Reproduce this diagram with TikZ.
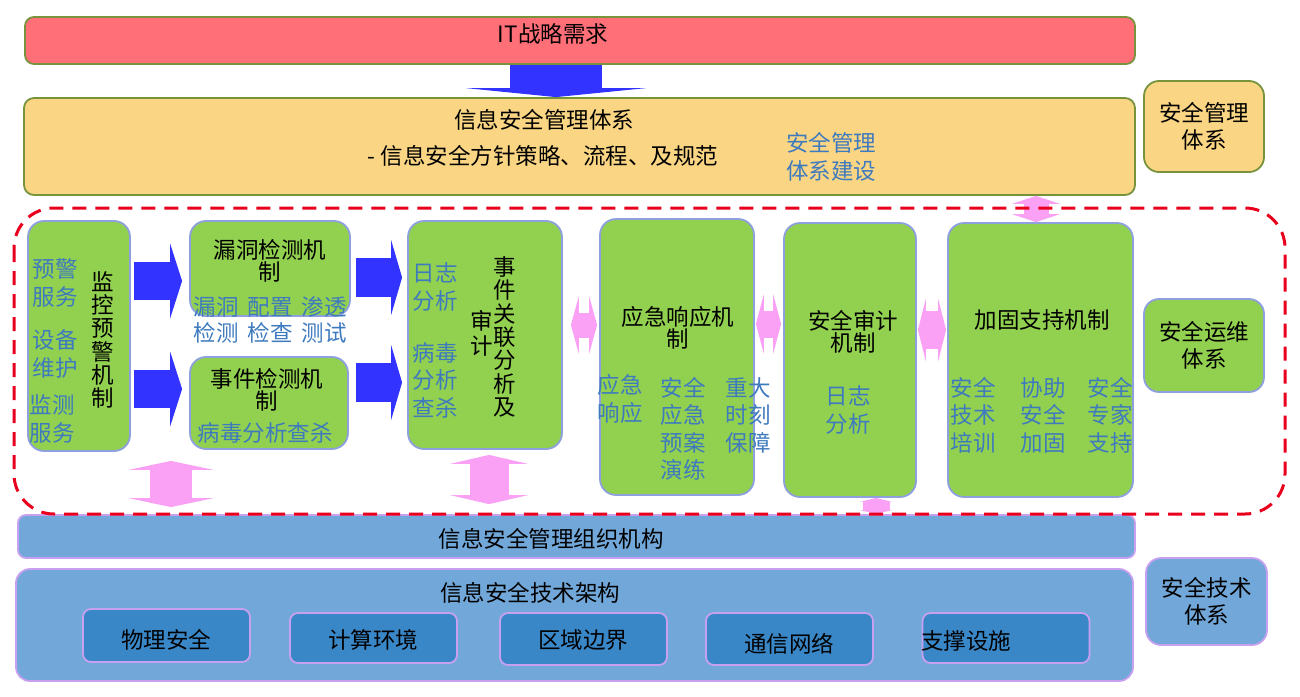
\documentclass[tikz,border=0pt]{standalone}
\usepackage{fontspec}
\setmainfont{Noto Sans CJK SC}
\definecolor{itred}{RGB}{255,111,119}
\definecolor{olive}{RGB}{119,147,60}
\definecolor{mgmtyellow}{RGB}{250,213,132}
\definecolor{mechgreen}{RGB}{146,208,80}
\definecolor{mechline}{RGB}{142,160,222}
\definecolor{noteblue}{RGB}{62,122,190}
\definecolor{arrowblue}{RGB}{51,51,255}
\definecolor{pinkarrow}{RGB}{250,160,245}
\definecolor{dashred}{RGB}{232,0,28}
\definecolor{orgblue}{RGB}{114,168,217}
\definecolor{orgline}{RGB}{200,160,240}
\definecolor{subblue}{RGB}{58,135,200}
\usepackage{tikz}
\usetikzlibrary{arrows.meta, positioning}

\begin{document}
\begin{tikzpicture}[x=1pt, y=-1pt,
  box/.style={draw, line width=1.8pt, rounded corners=#1, inner sep=0pt},
  mech/.style={box=16pt, draw=mechline, fill=mechgreen},
  sub/.style={box=8pt, draw=orgline, fill=subblue, minimum width=167pt},
  ttl/.style={font=\fontsize{22.5}{22}\selectfont, align=center, inner sep=0pt},
  side/.style={font=\fontsize{22.5}{27}\selectfont, align=center},
  vert/.style={ttl, font=\fontsize{22.5}{23.3}\selectfont},
  note/.style={text=noteblue, font=\fontsize{22.5}{27.5}\selectfont, align=center, inner sep=0pt},
  barrow/.style n args={3}{line width=#1, draw=arrowblue,
    arrows={-Triangle[width=#2,length=#3,line width=0pt]}},
  parrow/.style n args={3}{line width=#1, draw=pinkarrow,
    arrows={Triangle[width=#2,length=#3,line width=0pt]-Triangle[width=#2,length=#3,line width=0pt]}}]
  \useasboundingbox (0,0) rectangle (1300,696);

  % top layers
  \node[box=9pt, draw=olive, fill=itred, minimum width=1110pt, minimum height=47pt] (it) at (580,40.5) {};
  \node[ttl] (ittxt) at (553,34) {IT战略需求};
  \node[box=10pt, draw=olive, fill=mgmtyellow, minimum width=1111pt, minimum height=97pt] (mgmt) at (579.5,146.5) {};
  \node[ttl] (mgmttitle) at (544,120) {信息安全管理体系};
  \node[ttl] (mgmtpolicy) at (543,156) {- 信息安全方针策略、流程、及规范};
  \node[note] (mgmtbuild) at (831,157) {安全管理\\体系建设};
  \node[box=15pt, draw=olive, fill=mgmtyellow, side, minimum width=120pt, minimum height=91pt] (mgmtside) at (1204,126.5) {安全管理\\体系};
  \draw[barrow={92pt}{180pt}{9pt}] (556,0 |- it.south) -- (556,0 |- mgmt.north);

  % mechanisms
  \node[mech, minimum width=102pt, minimum height=230pt] (monitor) at (79,336) {};
  \node[vert] (monitorttl) at (103,340) {监\\控\\预\\警\\机\\制};
  \node[note] (warnsvc) at (55,283) {预警\\服务};
  \node[note] (devmaint) at (55,354) {设备\\维护};
  \node[note] (watchsvc) at (52,419) {监测\\服务};

  \node[mech, minimum width=160pt, minimum height=95pt] (vuln) at (270,268.5) {};
  \node[ttl] (vulnttl) at (270,261) {漏洞检测机\\制};
  \node[note, font=\fontsize{22.5}{26}\selectfont] (vulnnote) at (270,320)
    {漏洞\hspace{9pt}配置\hspace{9pt}渗透\\检测\hspace{9pt}检查\hspace{9pt}测试};

  \node[mech, minimum width=158pt, minimum height=92pt] (event) at (269,403) {};
  \node[ttl] (eventttl) at (267,390) {事件检测机\\制};
  \node[note] (eventnote) at (265,433) {病毒分析查杀};

  \node[mech, minimum width=154pt, minimum height=228pt] (corr) at (485,335) {};
  \node[vert] (corrttl) at (505,337) {事\\件\\关\\联\\分\\析\\及};
  \node[vert, font=\fontsize{22.5}{25}\selectfont] (corraudit) at (482,333) {审\\计};
  \node[note] (corrlog) at (435,287) {日志\\分析};
  \node[note] (corrvirus) at (435,380) {病毒\\分析\\查杀};

  \node[mech, minimum width=154pt, minimum height=276pt] (resp) at (677,357) {};
  \node[ttl] (respttl) at (678,328) {应急响应机\\制};
  \node[note] (respa) at (620,399) {应急\\响应};
  \node[note] (respb) at (683,429) {安全\\应急\\预案\\演练};
  \node[note] (respc) at (748,415) {重大\\时刻\\保障};

  \node[mech, minimum width=132pt, minimum height=274pt] (audit) at (850,360) {};
  \node[ttl] (auditttl) at (853,332) {安全审计\\机制};
  \node[note] (auditlog) at (848,410) {日志\\分析};

  \node[mech, minimum width=185pt, minimum height=274pt] (harden) at (1040.5,360) {};
  \node[ttl] (hardenttl) at (1042,320) {加固支持机制};
  \node[note] (hardena) at (973,415) {安全\\技术\\培训};
  \node[note] (hardenb) at (1043,415) {协助\\安全\\加固};
  \node[note] (hardenc) at (1110,415) {安全\\专家\\支持};

  \node[box=15pt, draw=mechline, fill=mechgreen, side, minimum width=120pt, minimum height=93pt] (opsside) at (1204,345.5) {安全运维\\体系};

  % bottom layers
  \node[box=8pt, draw=orgline, fill=orgblue, minimum width=1117pt, minimum height=43pt] (org) at (576.5,536.5) {};
  \node[ttl] (orgtxt) at (551,539) {信息安全管理组织机构};
  \node[box=14pt, draw=orgline, fill=orgblue, minimum width=1117pt, minimum height=112pt] (tech) at (574.5,625) {};
  \node[ttl] (techttl) at (530,593) {信息安全技术架构};
  \node[sub, minimum height=53pt] (phys) at (166.5,635.5) {};
  \node[ttl] (physt) at (166,640) {物理安全};
  \node[sub, minimum height=50pt] (comp) at (373.5,638) {};
  \node[ttl] (compt) at (373,640) {计算环境};
  \node[sub, minimum height=52pt] (bound) at (583.5,639) {};
  \node[ttl] (boundt) at (583,640) {区域边界};
  \node[sub, minimum height=52pt] (net) at (789.5,639) {};
  \node[ttl] (nett) at (789,644) {通信网络};
  \node[sub, minimum height=50pt] (infra) at (1006,638) {};
  \node[ttl] (infrat) at (966,641) {支撑设施};
  \node[box=15pt, draw=orgline, fill=orgblue, side, minimum width=121pt, minimum height=87pt] (techside) at (1206.5,601.5) {安全技术\\体系};

  % flow arrows
  \draw[barrow={38pt}{75pt}{12pt}, shorten <=3pt, shorten >=7pt] (monitor.east |- 0,281) -- (vuln.west |- 0,281);
  \draw[barrow={38pt}{75pt}{12pt}, shorten <=3pt, shorten >=7pt] (monitor.east |- 0,389) -- (event.west |- 0,389);
  \draw[barrow={39pt}{75pt}{11pt}, shorten <=5pt, shorten >=5pt] (vuln.east |- 0,277.5) -- (corr.west |- 0,277.5);
  \draw[barrow={39pt}{75pt}{11pt}, shorten <=7pt, shorten >=5pt] (event.east |- 0,382.5) -- (corr.west |- 0,382.5);

  \draw[parrow={42pt}{85pt}{9pt}, shorten <=9pt, shorten >=7pt] (171,0 |- monitor.south) -- (171,0 |- org.north);
  \draw[parrow={39pt}{78pt}{9pt}, shorten <=5pt, shorten >=10pt] (489,0 |- corr.south) -- (489,0 |- org.north);
  \draw[parrow={25pt}{58pt}{8pt}, shorten <=8pt, shorten >=2pt] (corr.east |- 0,325) -- (resp.west |- 0,325);
  \draw[parrow={27pt}{60pt}{8pt}, shorten <=1pt, shorten >=2pt] (resp.east |- 0,324) -- (audit.west |- 0,324);
  \draw[parrow={38pt}{63pt}{8pt}, shorten <=1pt, shorten >=1pt] (audit.east |- 0,330) -- (harden.west |- 0,330);
  \draw[parrow={25pt}{48pt}{8pt}] (1036,0 |- mgmt.south) -- (1036,0 |- harden.north);
  \draw[parrow={27pt}{32pt}{4pt}] (876,0 |- audit.south) -- (876,0 |- org.north);

  % operations frame
  \draw[dashred, line width=3pt, dash pattern=on 14pt off 9pt, rounded corners=40pt] (14,208) rectangle (1285,514);
\end{tikzpicture}
\end{document}
